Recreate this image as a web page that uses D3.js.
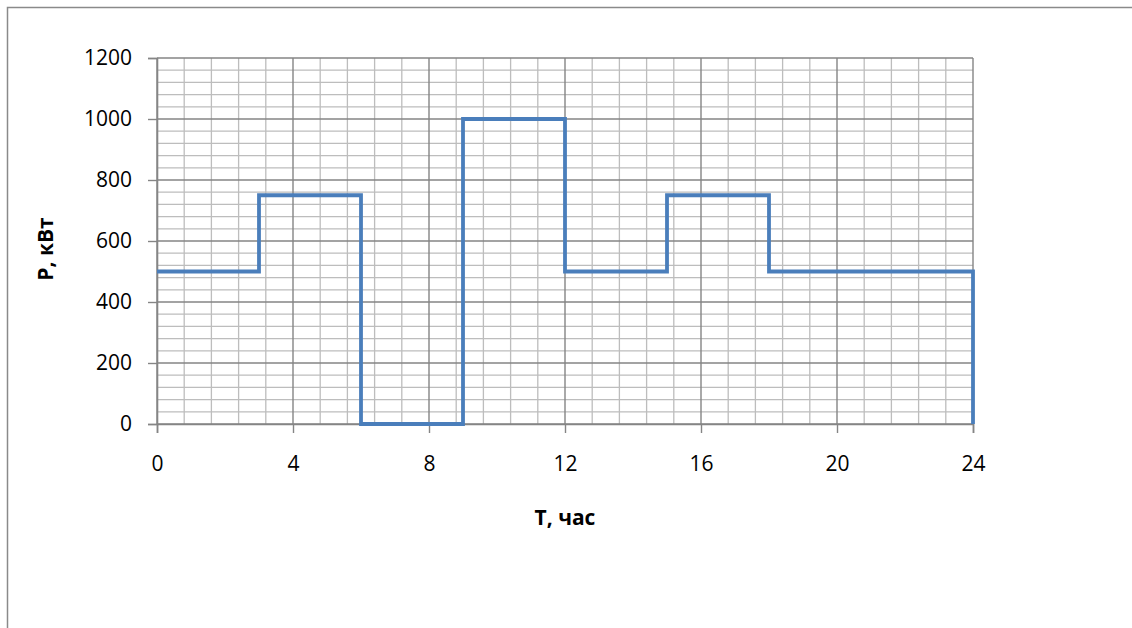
<!DOCTYPE html>
<html>
<head>
<meta charset="utf-8">
<script src="https://cdn.jsdelivr.net/npm/d3@7"></script>
<style>
  html, body { margin: 0; padding: 0; background: #fff; }
  svg { display: block; }
  text { font-family: "Open Sans", Lato, sans-serif; fill: #000; }
</style>
</head>
<body>
<svg id="chart" width="1132" height="628"></svg>
<script>
// Load schedule: power level held from each hour until the next one
const hours = [0, 3, 6, 9, 12, 15, 18, 24];
const power = [500, 750, 0, 1000, 500, 750, 500, 0];

const xTicks = [0, 4, 8, 12, 16, 20, 24];
const yTicks = [0, 200, 400, 600, 800, 1000, 1200];
const xTitle = "Т, час";
const yTitle = "P, кВт";

const svg = d3.select("#chart");
const plotLeft = 157, plotRight = 973, plotTop = 58, plotBottom = 424;
const fontFamily = "'Open Sans', Lato, sans-serif";

const x = d3.scaleLinear().domain([0, 24]).range([plotLeft, plotRight]);
const y = d3.scaleLinear().domain([0, 1200]).range([plotBottom, plotTop]);

// outer frame
svg.append("rect")
  .attr("x", 7.5).attr("y", 7.5)
  .attr("width", 1140).attr("height", 640)
  .attr("fill", "none").attr("stroke", "#8a8a8a").attr("stroke-width", 1.5);

// minor grid (one fifth of a major step)
const xMinor = d3.range(0, 24.001, 0.8).filter(v => Math.abs(v / 4 - Math.round(v / 4)) > 1e-6);
const yMinor = d3.range(0, 1200.001, 40).filter(v => v % 200 !== 0);

const grid = svg.append("g");
grid.selectAll(".vmin").data(xMinor).join("line")
  .attr("x1", d => x(d)).attr("x2", d => x(d))
  .attr("y1", plotTop).attr("y2", plotBottom)
  .attr("stroke", "#bdbdbd").attr("stroke-width", 1.3);
grid.selectAll(".hmin").data(yMinor).join("line")
  .attr("x1", plotLeft).attr("x2", plotRight)
  .attr("y1", d => y(d)).attr("y2", d => y(d))
  .attr("stroke", "#bdbdbd").attr("stroke-width", 1.3);

// major grid
grid.selectAll(".vmaj").data(xTicks).join("line")
  .attr("x1", d => x(d)).attr("x2", d => x(d))
  .attr("y1", plotTop).attr("y2", plotBottom)
  .attr("stroke", "#858585").attr("stroke-width", 1.4);
grid.selectAll(".hmaj").data(yTicks).join("line")
  .attr("x1", plotLeft).attr("x2", plotRight)
  .attr("y1", d => y(d)).attr("y2", d => y(d))
  .attr("stroke", "#858585").attr("stroke-width", 1.4);

// axes
const xAxis = svg.append("g")
  .attr("transform", `translate(0,${plotBottom})`)
  .call(d3.axisBottom(x).tickValues(xTicks).tickSize(9).tickPadding(23).tickFormat(d3.format("d")));
const yAxis = svg.append("g")
  .attr("transform", `translate(${plotLeft},0)`)
  .call(d3.axisLeft(y).tickValues(yTicks).tickSize(9).tickPadding(16).tickFormat(d3.format("d")));

[xAxis, yAxis].forEach(a => {
  a.select(".domain").attr("stroke", "#858585").attr("stroke-width", 1.6);
  a.selectAll(".tick line").attr("stroke", "#858585").attr("stroke-width", 1.4);
  a.selectAll(".tick text").attr("font-size", 21).attr("font-family", fontFamily).attr("fill", "#000");
});

// step line
const line = d3.line()
  .x((d, i) => x(hours[i]))
  .y(d => y(d))
  .curve(d3.curveStepAfter);

svg.append("path")
  .datum(power)
  .attr("d", line)
  .attr("fill", "none")
  .attr("stroke", "#4a7ebb")
  .attr("stroke-width", 3.8);

// axis titles
svg.append("text")
  .attr("x", 565).attr("y", 525)
  .attr("text-anchor", "middle")
  .attr("font-size", 21).attr("font-weight", "bold")
  .text(xTitle);

svg.append("text")
  .attr("transform", "translate(53,249) rotate(-90)")
  .attr("text-anchor", "middle")
  .attr("font-size", 21).attr("font-weight", "bold")
  .text(yTitle);
</script>
</body>
</html>
